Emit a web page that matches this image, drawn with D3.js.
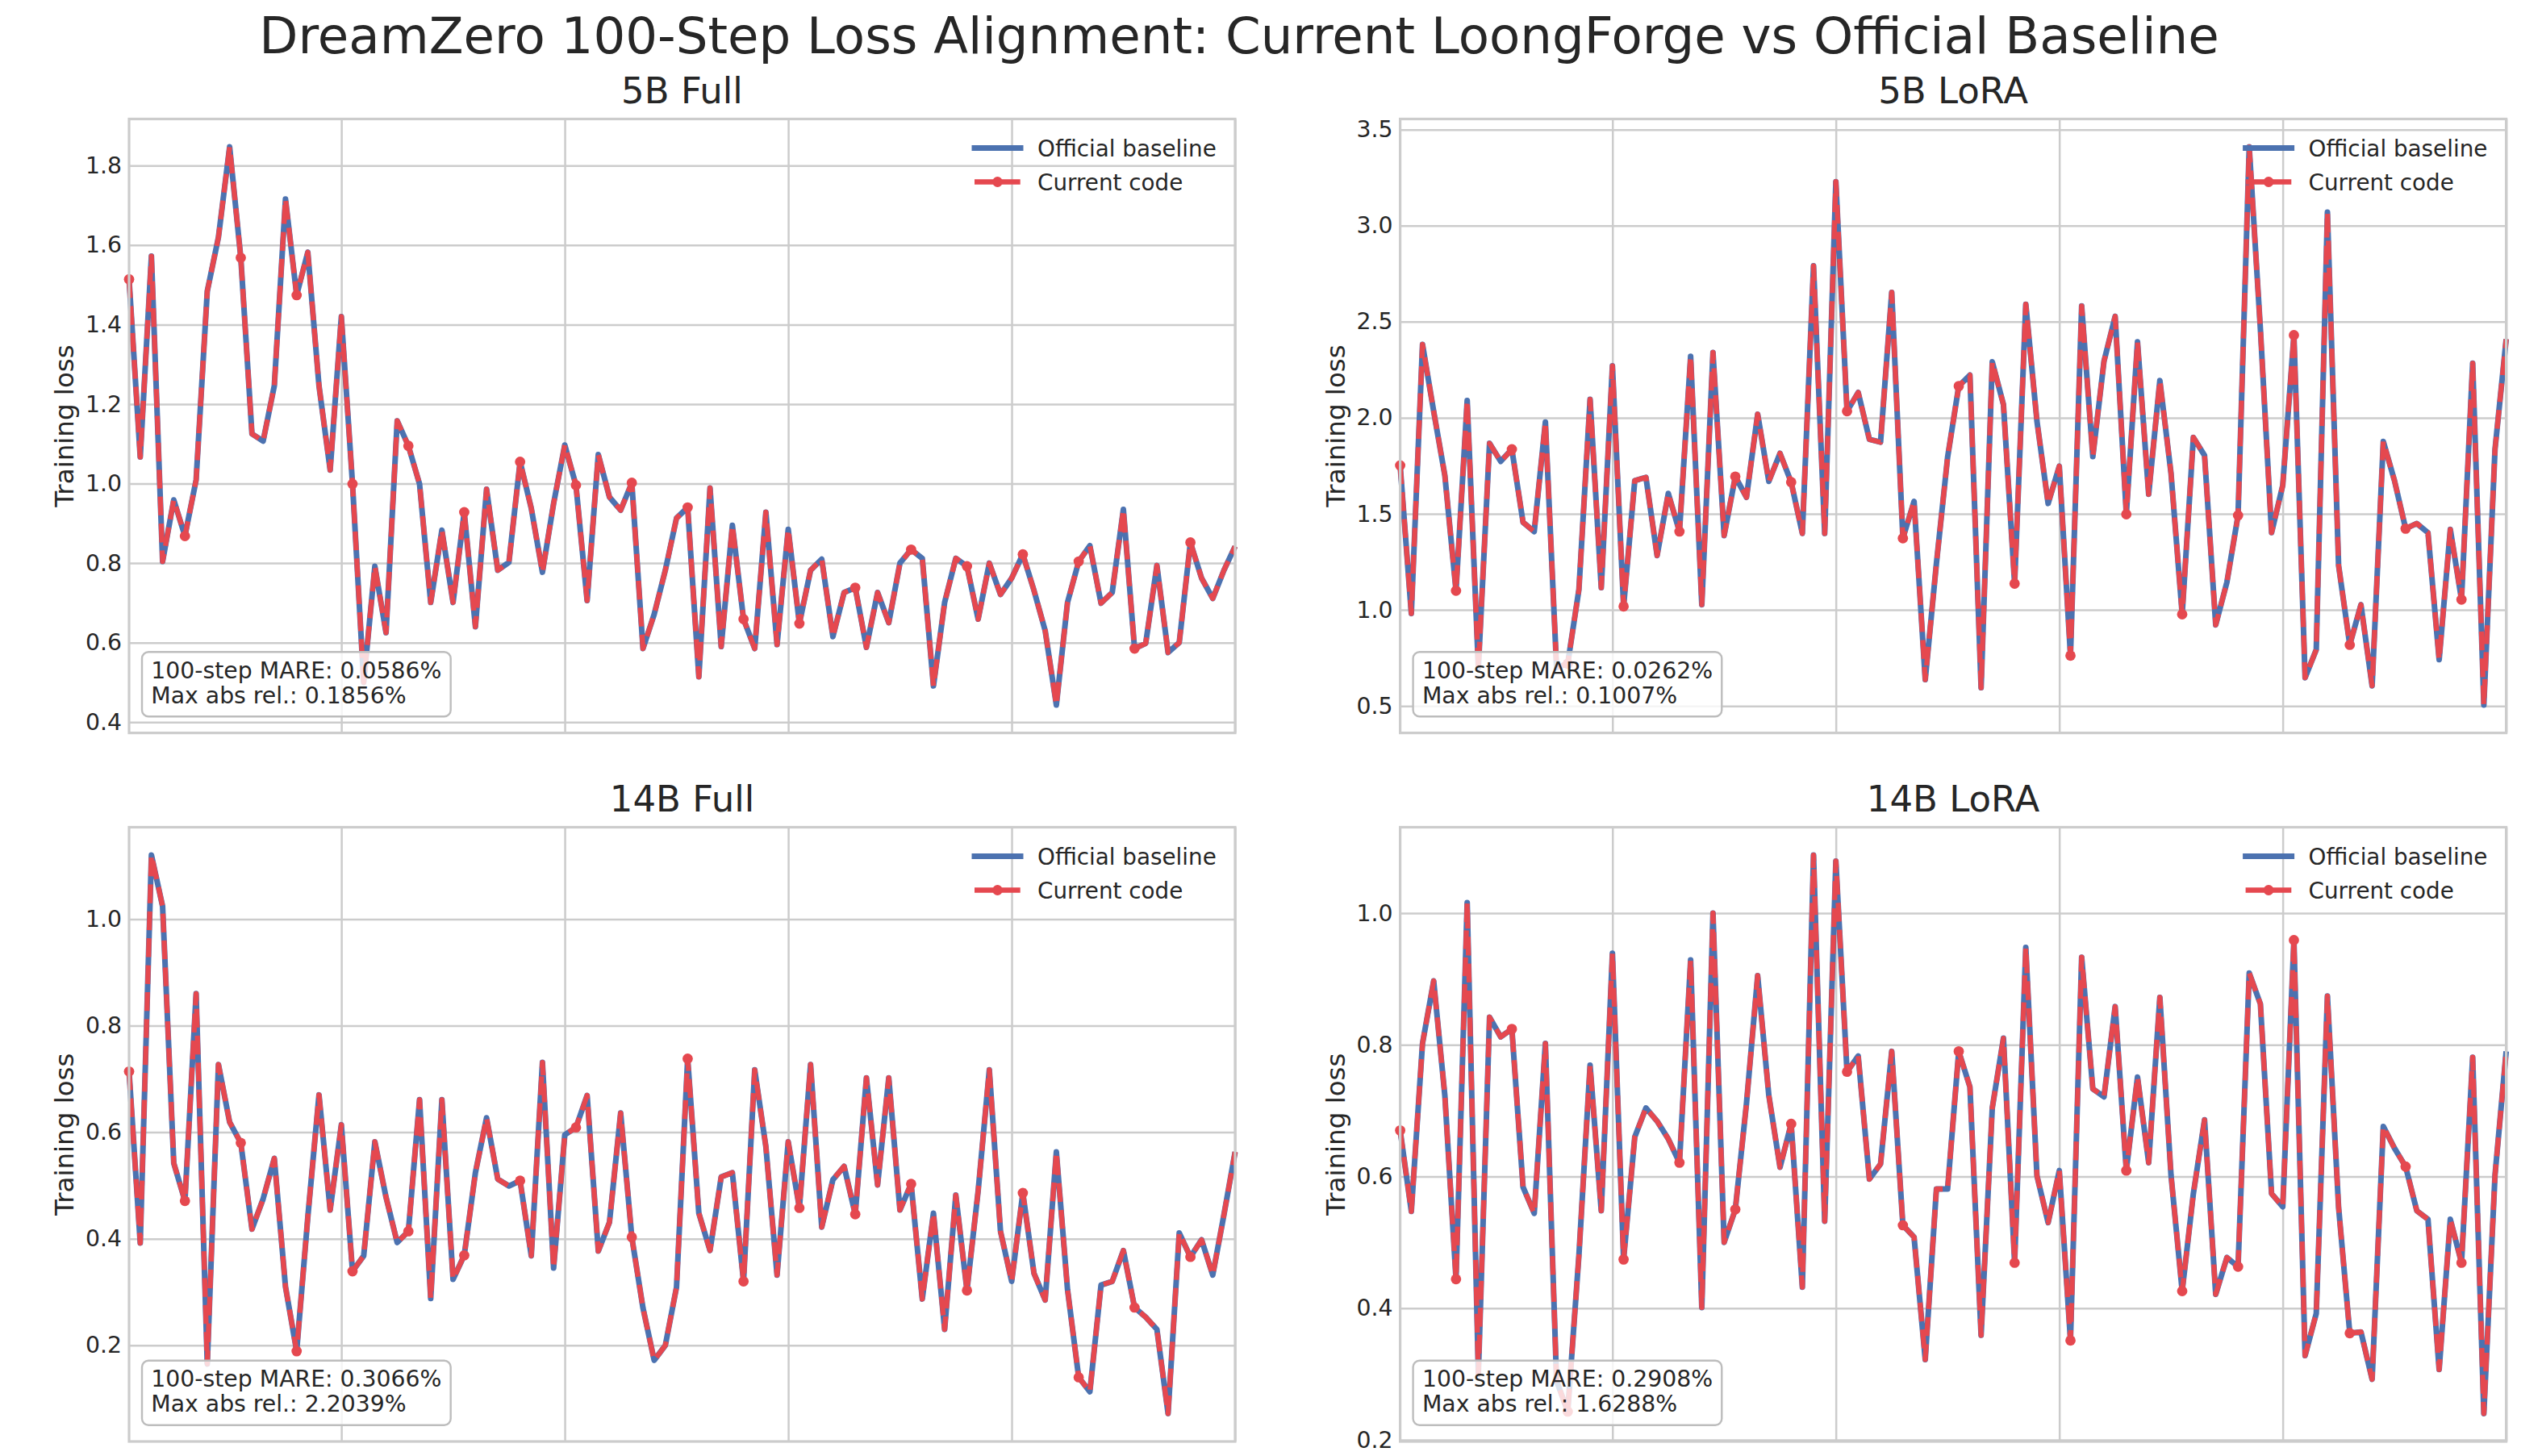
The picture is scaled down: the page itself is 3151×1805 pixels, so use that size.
<!DOCTYPE html>
<html><head><meta charset="utf-8">
<script src="https://cdn.jsdelivr.net/npm/d3@7/dist/d3.min.js"></script>
<style>html,body{margin:0;padding:0;background:#fff;} svg{display:block;font-family:"DejaVu Sans",sans-serif;}</style>
</head><body><svg id="chart" width="3151" height="1805"></svg>
<script>
const figureTitle = "DreamZero 100-Step Loss Alignment: Current LoongForge vs Official Baseline";
const panelTitles = ["5B Full", "5B LoRA", "14B Full", "14B LoRA"];
const seriesNames = ["Official baseline", "Current code"];
const mareLabels = ["100-step MARE: 0.0586%", "100-step MARE: 0.0262%", "100-step MARE: 0.3066%", "100-step MARE: 0.2908%"];
const maxRelLabels = ["Max abs rel.: 0.1856%", "Max abs rel.: 0.1007%", "Max abs rel.: 2.2039%", "Max abs rel.: 1.6288%"];
const stepTicks = [20, 40, 60, 80, 100];
const yTicks5BFull = [0.4, 0.6, 0.8, 1.0, 1.2, 1.4, 1.6, 1.8];
const yTicks5BLoRA = [0.5, 1.0, 1.5, 2.0, 2.5, 3.0, 3.5];
const yTicks14BFull = [0.2, 0.4, 0.6, 0.8, 1.0];
const yTicks14BLoRA = [0.2, 0.4, 0.6, 0.8, 1.0];

const official5BFull = [1.514,1.067,1.572,0.804,0.959,0.868,1.009,1.484,1.620,1.847,
 1.568,1.125,1.107,1.246,1.716,1.474,1.582,1.246,1.034,1.420,
 0.999,0.500,0.792,0.625,1.158,1.095,0.999,0.701,0.883,0.701,
 0.928,0.640,0.986,0.782,0.802,1.055,0.938,0.777,0.950,1.097,
 0.996,0.706,1.073,0.966,0.933,1.002,0.585,0.671,0.782,0.913,
 0.940,0.514,0.989,0.590,0.895,0.659,0.585,0.928,0.595,0.885,
 0.648,0.782,0.810,0.615,0.726,0.738,0.588,0.726,0.650,0.800,
 0.834,0.812,0.491,0.701,0.812,0.792,0.659,0.800,0.721,0.762,
 0.822,0.731,0.630,0.443,0.701,0.804,0.844,0.699,0.726,0.935,
 0.585,0.598,0.794,0.575,0.600,0.852,0.762,0.711,0.782,0.842];
const current5BFull = [1.514,1.067,1.572,0.804,0.959,0.868,1.009,1.484,1.620,1.847,
 1.568,1.125,1.107,1.246,1.716,1.474,1.582,1.246,1.034,1.420,
 0.999,0.500,0.792,0.625,1.158,1.095,0.999,0.701,0.883,0.701,
 0.928,0.640,0.986,0.782,0.802,1.055,0.938,0.777,0.950,1.097,
 0.996,0.706,1.073,0.966,0.933,1.002,0.585,0.671,0.782,0.913,
 0.940,0.514,0.989,0.590,0.895,0.659,0.585,0.928,0.595,0.885,
 0.648,0.782,0.810,0.615,0.726,0.738,0.588,0.726,0.650,0.800,
 0.834,0.812,0.491,0.701,0.812,0.792,0.659,0.800,0.721,0.762,
 0.822,0.731,0.630,0.443,0.701,0.804,0.844,0.699,0.726,0.935,
 0.585,0.598,0.794,0.575,0.600,0.852,0.762,0.711,0.782,0.842];

const official5BLoRA = [1.752,0.981,2.382,2.034,1.700,1.100,2.090,0.700,1.867,1.773,
 1.836,1.456,1.408,1.978,0.700,0.720,1.106,2.096,1.116,2.270,
 1.018,1.673,1.690,1.283,1.606,1.408,2.320,1.027,2.340,1.387,
 1.694,1.586,2.019,1.669,1.815,1.665,1.398,2.791,1.398,3.229,
 2.034,2.132,1.888,1.873,2.653,1.373,1.565,0.637,1.241,1.794,
 2.165,2.222,0.595,2.291,2.069,1.137,2.591,1.982,1.554,1.748,
 0.762,2.582,1.798,2.294,2.528,1.498,2.395,1.602,2.194,1.711,
 0.977,1.898,1.804,0.922,1.144,1.492,3.410,2.461,1.402,1.648,
 2.430,0.647,0.793,3.070,1.231,0.818,1.027,0.605,1.877,1.673,
 1.423,1.450,1.402,0.741,1.419,1.054,2.284,0.505,1.836,2.409];
const current5BLoRA = [1.752,0.981,2.382,2.034,1.700,1.100,2.090,0.700,1.867,1.773,
 1.836,1.456,1.408,1.978,0.700,0.720,1.106,2.096,1.116,2.270,
 1.018,1.673,1.690,1.283,1.606,1.408,2.320,1.027,2.340,1.387,
 1.694,1.586,2.019,1.669,1.815,1.665,1.398,2.791,1.398,3.229,
 2.034,2.132,1.888,1.873,2.653,1.373,1.565,0.637,1.241,1.794,
 2.165,2.222,0.595,2.291,2.069,1.137,2.591,1.982,1.554,1.748,
 0.762,2.582,1.798,2.294,2.528,1.498,2.395,1.602,2.194,1.711,
 0.977,1.898,1.804,0.922,1.144,1.492,3.410,2.461,1.402,1.648,
 2.430,0.647,0.793,3.070,1.231,0.818,1.027,0.605,1.877,1.673,
 1.423,1.450,1.402,0.741,1.419,1.054,2.284,0.505,1.836,2.409];

const official14BFull = [0.714,0.392,1.120,1.024,0.542,0.471,0.860,0.165,0.727,0.619,
 0.580,0.418,0.475,0.551,0.310,0.189,0.441,0.670,0.454,0.614,
 0.339,0.368,0.582,0.478,0.393,0.414,0.661,0.288,0.661,0.324,
 0.369,0.524,0.627,0.512,0.499,0.509,0.368,0.731,0.345,0.595,
 0.609,0.669,0.377,0.431,0.636,0.403,0.270,0.172,0.200,0.309,
 0.738,0.448,0.378,0.516,0.524,0.320,0.717,0.573,0.332,0.582,
 0.458,0.727,0.422,0.511,0.536,0.446,0.702,0.501,0.702,0.454,
 0.503,0.287,0.448,0.230,0.482,0.303,0.490,0.717,0.414,0.320,
 0.486,0.335,0.285,0.563,0.305,0.140,0.113,0.313,0.320,0.378,
 0.271,0.253,0.230,0.072,0.411,0.366,0.398,0.332,0.445,0.563];
const current14BFull = [0.714,0.392,1.120,1.024,0.542,0.471,0.860,0.165,0.727,0.619,
 0.580,0.418,0.475,0.551,0.310,0.189,0.441,0.670,0.454,0.614,
 0.339,0.368,0.582,0.478,0.393,0.414,0.661,0.288,0.661,0.324,
 0.369,0.524,0.627,0.512,0.499,0.509,0.368,0.731,0.345,0.595,
 0.609,0.669,0.377,0.431,0.636,0.403,0.270,0.172,0.200,0.309,
 0.738,0.448,0.378,0.516,0.524,0.320,0.717,0.573,0.332,0.582,
 0.458,0.727,0.422,0.511,0.536,0.446,0.702,0.501,0.702,0.454,
 0.503,0.287,0.448,0.230,0.482,0.303,0.490,0.717,0.414,0.320,
 0.486,0.335,0.285,0.563,0.305,0.140,0.113,0.313,0.320,0.378,
 0.271,0.253,0.230,0.072,0.411,0.366,0.398,0.332,0.445,0.563];

const official14BLoRA = [0.670,0.547,0.802,0.897,0.723,0.444,1.016,0.300,0.842,0.812,
 0.824,0.584,0.544,0.802,0.290,0.243,0.480,0.769,0.548,0.939,
 0.474,0.660,0.704,0.684,0.657,0.621,0.929,0.401,1.000,0.500,
 0.550,0.711,0.905,0.723,0.614,0.680,0.432,1.088,0.532,1.079,
 0.759,0.783,0.596,0.619,0.790,0.526,0.508,0.322,0.581,0.581,
 0.790,0.736,0.359,0.704,0.810,0.469,0.948,0.601,0.530,0.609,
 0.351,0.933,0.733,0.721,0.858,0.609,0.751,0.621,0.872,0.602,
 0.426,0.574,0.686,0.421,0.477,0.463,0.909,0.862,0.574,0.554,
 0.959,0.328,0.392,0.874,0.553,0.362,0.364,0.292,0.676,0.643,
 0.615,0.548,0.535,0.307,0.535,0.469,0.781,0.240,0.602,0.790];
const current14BLoRA = [0.670,0.547,0.802,0.897,0.723,0.444,1.016,0.300,0.842,0.812,
 0.824,0.584,0.544,0.802,0.290,0.243,0.480,0.769,0.548,0.939,
 0.474,0.660,0.704,0.684,0.657,0.621,0.929,0.401,1.000,0.500,
 0.550,0.711,0.905,0.723,0.614,0.680,0.432,1.088,0.532,1.079,
 0.759,0.783,0.596,0.619,0.790,0.526,0.508,0.322,0.581,0.581,
 0.790,0.736,0.359,0.704,0.810,0.469,0.948,0.601,0.530,0.609,
 0.351,0.933,0.733,0.721,0.858,0.609,0.751,0.621,0.872,0.602,
 0.426,0.574,0.686,0.421,0.477,0.463,0.909,0.862,0.574,0.554,
 0.959,0.328,0.392,0.874,0.553,0.362,0.364,0.292,0.676,0.643,
 0.615,0.548,0.535,0.307,0.535,0.469,0.781,0.240,0.602,0.790];

const officialSeries = [official5BFull, official5BLoRA, official14BFull, official14BLoRA];
const currentSeries = [current5BFull, current5BLoRA, current14BFull, current14BLoRA];
const yTickSets = [yTicks5BFull, yTicks5BLoRA, yTicks14BFull, yTicks14BLoRA];

const W = 3151, H = 1805;
const BLUE = "#4C72B0", RED = "#E5484F", TXT = "#262626", GRID = "#cccccc";
const BLUE_W = 7, RED_W = 6.3, DASH = "23.3,10.1", MK_R = 6.4;
const svg = d3.select("#chart");
svg.append("rect").attr("width", W).attr("height", H).attr("fill", "#fff");

const frames = [
  {l: 160, r: 1531, t: 147.5, b: 908.6},
  {l: 1735.6, r: 3106.6, t: 147.5, b: 908.6},
  {l: 160, r: 1531, t: 1025.5, b: 1787},
  {l: 1735.6, r: 3106.6, t: 1025.5, b: 1787}
];

svg.append("text").attr("x", 1536).attr("y", 66).attr("text-anchor", "middle")
  .attr("font-size", 62.6).attr("fill", TXT).text(figureTitle);

frames.forEach((f, p) => {
  const off = officialSeries[p], cur = currentSeries[p];
  const x = d3.scaleLinear().domain([1, off.length]).range([f.l, f.r]);
  const ext = d3.extent(off.concat(cur));
  const pad = (ext[1] - ext[0]) * 0.05;
  const y = d3.scaleLinear().domain([ext[0] - pad, ext[1] + pad]).range([f.b, f.t]);
  const g = svg.append("g");

  // horizontal grid + y tick labels
  const ya = g.append("g").attr("transform", `translate(${f.l},0)`)
    .call(d3.axisLeft(y).tickValues(yTickSets[p].filter(v => v >= y.domain()[0] && v <= y.domain()[1]))
      .tickSize(-(f.r - f.l)).tickPadding(9).tickFormat(d3.format(".1f")));
  ya.select(".domain").remove();
  ya.selectAll(".tick line").attr("stroke", GRID).attr("stroke-width", 2.5);
  ya.selectAll(".tick text").attr("font-size", 28.3).attr("fill", TXT).attr("font-family", "DejaVu Sans");

  // vertical grid
  const xa = g.append("g").attr("transform", `translate(0,${f.b})`)
    .call(d3.axisBottom(x).tickValues(stepTicks).tickSize(-(f.b - f.t)).tickFormat(""));
  xa.select(".domain").remove();
  xa.selectAll(".tick line").attr("stroke", GRID).attr("stroke-width", 2.5);

  // lines
  const line = d3.line().x((d, i) => x(i + 1)).y(d => y(d));
  g.append("path").datum(off).attr("d", line).attr("fill", "none").attr("stroke", BLUE)
    .attr("stroke-width", BLUE_W).attr("stroke-linejoin", "round");
  g.append("path").datum(cur).attr("d", line).attr("fill", "none").attr("stroke", RED)
    .attr("stroke-width", RED_W).attr("stroke-linejoin", "round").attr("stroke-dasharray", DASH);
  g.selectAll("circle.mk").data(cur.map((v, i) => ({v, i})).filter(d => d.i % 5 === 0))
    .join("circle").attr("class", "mk").attr("cx", d => x(d.i + 1)).attr("cy", d => y(d.v))
    .attr("r", MK_R).attr("fill", RED);

  // spines
  g.append("rect").attr("x", f.l).attr("y", f.t).attr("width", f.r - f.l).attr("height", f.b - f.t)
    .attr("fill", "none").attr("stroke", GRID).attr("stroke-width", 3.2);

  // titles
  g.append("text").attr("x", (f.l + f.r) / 2).attr("y", f.t - 19.5).attr("text-anchor", "middle")
    .attr("font-size", 45).attr("fill", TXT).text(panelTitles[p]);
  g.append("text").attr("transform", `translate(${f.l - 80},${(f.t + f.b) / 2}) rotate(-90)`)
    .attr("text-anchor", "middle").attr("dy", "0.35em").attr("font-size", 32.5).attr("fill", TXT)
    .text("Training loss");

  // legend
  const lg = g.append("g");
  const hx0 = f.r - 323, hx1 = f.r - 266, tx = f.r - 245;
  const rows = [f.t + 36, f.t + 78];
  lg.append("line").attr("x1", hx0).attr("x2", hx1).attr("y1", rows[0]).attr("y2", rows[0])
    .attr("stroke", BLUE).attr("stroke-width", BLUE_W).attr("stroke-linecap", "square");
  lg.append("line").attr("x1", hx0).attr("x2", hx1).attr("y1", rows[1]).attr("y2", rows[1])
    .attr("stroke", RED).attr("stroke-width", RED_W).attr("stroke-dasharray", DASH);
  lg.append("circle").attr("cx", (hx0 + hx1) / 2).attr("cy", rows[1]).attr("r", MK_R).attr("fill", RED);
  seriesNames.forEach((n, k) => {
    lg.append("text").attr("x", tx).attr("y", rows[k]).attr("dy", "0.365em")
      .attr("font-size", 27.8).attr("fill", TXT).text(n);
  });

  // annotation box
  const ag = g.append("g");
  const box = ag.append("rect");
  const t = ag.append("text").attr("font-size", 28.3).attr("fill", TXT);
  const t1 = t.append("tspan").attr("x", f.l + 27.3).attr("y", f.b - 68).text(mareLabels[p]);
  const t2 = t.append("tspan").attr("x", f.l + 27.3).attr("y", f.b - 37).text(maxRelLabels[p]);
  const tw = Math.max(t1.node().getComputedTextLength(), t2.node().getComputedTextLength());
  box.attr("x", f.l + 16).attr("y", f.b - 100.3).attr("width", tw + 22.5).attr("height", 80)
    .attr("rx", 8).attr("ry", 8).attr("fill", "#fff").attr("fill-opacity", 0.8)
    .attr("stroke", "#bdbdbd").attr("stroke-width", 2.4);
});
</script>
</body></html>
